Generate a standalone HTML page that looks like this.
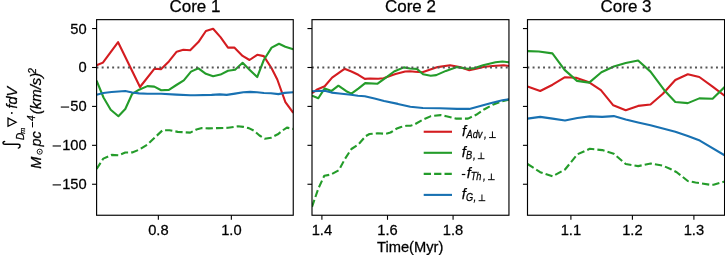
<!DOCTYPE html><html><head><meta charset="utf-8"><style>html,body{margin:0;padding:0;background:#fff;overflow:hidden;}svg{display:block;will-change:transform;}text{font-family:"Liberation Sans", sans-serif;fill:#000;stroke:#000;stroke-width:0.25px;}</style></head><body>
<svg width="725" height="255" viewBox="0 0 725 255">
<rect width="725" height="255" fill="#fff"/>
<clipPath id="c0"><rect x="96.60" y="19.65" width="196.65" height="195.60"/></clipPath>
<g clip-path="url(#c0)">
<polyline points="96.60,65.30 102.90,62.60 118.10,42.20 140.00,87.00 154.30,68.80 161.20,69.10 168.90,61.40 176.70,51.70 183.30,49.80 190.20,50.30 198.40,42.10 205.90,31.00 213.10,28.80 220.50,37.10 228.00,47.60 234.30,47.60 242.60,55.90 249.50,60.00 257.20,54.80 263.80,56.10 271.60,68.30 277.30,79.50 285.40,102.20 293.25,112.80" fill="none" stroke="#d41c20" stroke-width="2.10" stroke-linejoin="round" stroke-linecap="butt"/>
<polyline points="96.60,80.60 103.50,97.50 110.70,109.70 118.40,116.20 125.30,109.00 132.20,93.80 139.10,89.70 147.40,86.10 154.30,86.60 161.20,90.20 168.90,89.90 176.40,85.00 183.80,80.30 191.00,71.60 198.40,68.30 205.90,73.80 213.10,76.30 220.50,74.60 228.00,70.80 235.10,69.70 242.60,62.80 249.50,69.70 257.20,77.10 263.80,60.00 271.60,47.60 279.00,43.70 285.30,46.70 293.25,49.30" fill="none" stroke="#249c2a" stroke-width="2.10" stroke-linejoin="round" stroke-linecap="butt"/>
<polyline points="96.60,169.00 103.30,158.60 111.60,154.90 118.40,155.30 125.30,152.50 132.20,152.40 139.10,149.70 147.40,144.60 154.30,138.00 162.60,130.20 169.50,130.20 177.80,131.90 190.20,132.60 196.40,129.50 201.90,128.10 208.80,128.40 217.10,128.10 228.10,127.80 237.80,126.30 243.30,126.90 248.80,128.10 254.30,130.90 259.50,135.50 264.80,138.70 271.00,137.70 277.80,134.30 283.30,130.00 286.90,127.60 293.25,129.00" fill="none" stroke="#249c2a" stroke-width="2.10" stroke-linejoin="round" stroke-linecap="butt" stroke-dasharray="7.3 3.1"/>
<polyline points="96.60,94.70 103.30,93.00 111.60,92.00 125.30,91.00 132.20,92.50 139.10,93.40 147.40,93.70 161.20,93.80 176.40,94.60 190.20,95.30 195.00,95.30 211.60,94.90 219.80,94.40 226.70,94.90 235.00,93.60 243.30,92.30 250.20,91.90 257.10,92.30 264.00,93.00 270.90,93.30 278.40,94.10 284.70,92.90 293.25,92.20" fill="none" stroke="#1871b2" stroke-width="2.10" stroke-linejoin="round" stroke-linecap="butt"/>
<line x1="96.45" y1="67.52" x2="293.25" y2="67.52" stroke="#555" stroke-width="1.95" stroke-dasharray="1.95 3.29"/>
</g>
<rect x="96.60" y="19.65" width="196.65" height="195.60" fill="none" stroke="#000" stroke-width="1.15"/>
<line x1="92.05" y1="28.57" x2="96.60" y2="28.57" stroke="#000" stroke-width="1.1"/>
<line x1="92.05" y1="67.49" x2="96.60" y2="67.49" stroke="#000" stroke-width="1.1"/>
<line x1="92.05" y1="106.41" x2="96.60" y2="106.41" stroke="#000" stroke-width="1.1"/>
<line x1="92.05" y1="145.33" x2="96.60" y2="145.33" stroke="#000" stroke-width="1.1"/>
<line x1="92.05" y1="184.25" x2="96.60" y2="184.25" stroke="#000" stroke-width="1.1"/>
<line x1="158.35" y1="215.25" x2="158.35" y2="219.80" stroke="#000" stroke-width="1.1"/>
<text transform="translate(158.35 234.70) scale(1.050 1)" font-size="14.00" text-anchor="middle">0.8</text>
<line x1="231.35" y1="215.25" x2="231.35" y2="219.80" stroke="#000" stroke-width="1.1"/>
<text transform="translate(231.35 234.70) scale(1.050 1)" font-size="14.00" text-anchor="middle">1.0</text>
<text transform="translate(194.93 12.00) scale(1.050 1)" font-size="16.20" text-anchor="middle">Core 1</text>
<clipPath id="c1"><rect x="312.00" y="19.65" width="196.95" height="195.60"/></clipPath>
<g clip-path="url(#c1)">
<polyline points="312.00,93.20 316.60,89.80 324.70,86.30 332.10,77.60 344.50,68.80 351.40,71.50 358.30,74.80 364.80,78.90 370.00,78.50 378.10,78.80 383.60,78.30 391.90,75.20 395.50,74.00 405.20,71.50 410.00,71.30 414.80,71.70 422.40,72.30 437.60,67.10 450.00,65.30 459.70,67.10 469.30,70.20 476.20,68.80 484.50,66.70 492.80,66.00 503.80,65.30 508.95,66.00" fill="none" stroke="#d41c20" stroke-width="2.10" stroke-linejoin="round" stroke-linecap="butt"/>
<polyline points="312.00,95.60 318.30,98.20 324.70,88.40 331.60,90.90 338.40,85.70 346.30,91.20 351.40,93.60 358.30,88.60 365.20,83.10 377.60,83.70 385.90,77.60 394.10,71.50 403.80,67.40 410.00,68.50 416.90,68.90 423.10,74.30 430.70,75.70 436.20,75.10 445.90,70.90 456.90,67.10 467.90,68.80 474.80,68.10 483.10,65.30 495.50,62.20 502.40,61.50 508.95,62.30" fill="none" stroke="#249c2a" stroke-width="2.10" stroke-linejoin="round" stroke-linecap="butt"/>
<polyline points="312.00,206.80 318.30,188.60 324.30,175.70 330.70,174.60 339.00,170.10 344.50,159.70 351.40,149.00 358.30,144.60 365.60,136.20 369.50,134.00 377.60,133.30 385.90,133.80 390.50,132.50 396.90,128.50 401.00,127.00 406.60,125.80 410.50,125.80 414.80,124.30 422.80,119.80 431.00,116.10 440.60,115.10 446.30,116.20 455.70,118.60 468.00,118.60 476.20,114.80 484.50,109.20 492.70,104.80 500.90,101.70 508.95,99.60" fill="none" stroke="#249c2a" stroke-width="2.10" stroke-linejoin="round" stroke-linecap="butt" stroke-dasharray="7.3 3.1"/>
<polyline points="312.00,91.30 324.70,90.70 331.60,92.60 339.40,93.50 351.00,94.80 357.90,95.80 364.80,96.30 374.50,98.60 384.10,101.00 397.90,103.90 410.30,106.80 422.80,108.00 440.00,108.20 457.00,108.90 469.40,108.90 477.60,106.80 491.30,103.00 502.30,100.30 508.95,99.30" fill="none" stroke="#1871b2" stroke-width="2.10" stroke-linejoin="round" stroke-linecap="butt"/>
<line x1="311.85" y1="67.52" x2="508.95" y2="67.52" stroke="#555" stroke-width="1.95" stroke-dasharray="1.95 3.29"/>
</g>
<rect x="312.00" y="19.65" width="196.95" height="195.60" fill="none" stroke="#000" stroke-width="1.15"/>
<line x1="307.45" y1="28.57" x2="312.00" y2="28.57" stroke="#000" stroke-width="1.1"/>
<line x1="307.45" y1="67.49" x2="312.00" y2="67.49" stroke="#000" stroke-width="1.1"/>
<line x1="307.45" y1="106.41" x2="312.00" y2="106.41" stroke="#000" stroke-width="1.1"/>
<line x1="307.45" y1="145.33" x2="312.00" y2="145.33" stroke="#000" stroke-width="1.1"/>
<line x1="307.45" y1="184.25" x2="312.00" y2="184.25" stroke="#000" stroke-width="1.1"/>
<line x1="321.90" y1="215.25" x2="321.90" y2="219.80" stroke="#000" stroke-width="1.1"/>
<text transform="translate(321.90 234.70) scale(1.050 1)" font-size="14.00" text-anchor="middle">1.4</text>
<line x1="387.50" y1="215.25" x2="387.50" y2="219.80" stroke="#000" stroke-width="1.1"/>
<text transform="translate(387.50 234.70) scale(1.050 1)" font-size="14.00" text-anchor="middle">1.6</text>
<line x1="453.08" y1="215.25" x2="453.08" y2="219.80" stroke="#000" stroke-width="1.1"/>
<text transform="translate(453.08 234.70) scale(1.050 1)" font-size="14.00" text-anchor="middle">1.8</text>
<text transform="translate(410.48 12.00) scale(1.050 1)" font-size="16.20" text-anchor="middle">Core 2</text>
<clipPath id="c2"><rect x="527.50" y="19.65" width="197.05" height="195.60"/></clipPath>
<g clip-path="url(#c2)">
<polyline points="527.50,86.60 540.20,91.00 552.60,84.70 565.00,77.20 576.00,77.80 588.40,81.90 600.90,90.20 613.30,105.30 625.70,110.30 638.10,105.90 650.50,104.50 662.90,93.80 675.30,80.00 687.80,74.20 699.30,77.00 712.60,86.60 724.55,95.70" fill="none" stroke="#d41c20" stroke-width="2.10" stroke-linejoin="round" stroke-linecap="butt"/>
<polyline points="527.50,51.10 538.80,51.50 552.40,53.40 564.60,69.90 577.00,80.90 589.20,82.60 601.40,72.20 613.80,66.50 625.70,63.00 638.10,60.50 650.50,71.60 664.30,90.20 675.30,102.00 687.80,103.10 699.30,98.40 712.60,98.70 724.55,87.10" fill="none" stroke="#249c2a" stroke-width="2.10" stroke-linejoin="round" stroke-linecap="butt"/>
<polyline points="527.50,164.00 540.20,172.20 552.60,176.40 565.00,169.50 577.40,154.30 589.80,148.80 602.20,150.10 613.80,153.80 625.70,164.00 638.20,166.10 650.80,163.50 662.60,165.60 670.50,169.00 676.70,172.20 687.80,181.00 695.50,182.50 710.50,184.80 713.50,184.80 724.55,181.50" fill="none" stroke="#249c2a" stroke-width="2.10" stroke-linejoin="round" stroke-linecap="butt" stroke-dasharray="7.3 3.1"/>
<polyline points="527.50,118.60 540.20,116.90 552.60,118.60 565.00,120.50 577.40,118.00 589.80,116.40 602.20,116.90 613.80,116.10 625.70,119.50 638.10,122.50 650.50,125.30 662.90,128.50 675.30,131.70 687.80,135.90 699.80,140.60 724.55,155.30" fill="none" stroke="#1871b2" stroke-width="2.10" stroke-linejoin="round" stroke-linecap="butt"/>
<line x1="527.35" y1="67.52" x2="724.55" y2="67.52" stroke="#555" stroke-width="1.95" stroke-dasharray="1.95 3.29"/>
</g>
<rect x="527.50" y="19.65" width="197.05" height="195.60" fill="none" stroke="#000" stroke-width="1.15"/>
<line x1="522.95" y1="28.57" x2="527.50" y2="28.57" stroke="#000" stroke-width="1.1"/>
<line x1="522.95" y1="67.49" x2="527.50" y2="67.49" stroke="#000" stroke-width="1.1"/>
<line x1="522.95" y1="106.41" x2="527.50" y2="106.41" stroke="#000" stroke-width="1.1"/>
<line x1="522.95" y1="145.33" x2="527.50" y2="145.33" stroke="#000" stroke-width="1.1"/>
<line x1="522.95" y1="184.25" x2="527.50" y2="184.25" stroke="#000" stroke-width="1.1"/>
<line x1="570.90" y1="215.25" x2="570.90" y2="219.80" stroke="#000" stroke-width="1.1"/>
<text transform="translate(570.90 234.70) scale(1.050 1)" font-size="14.00" text-anchor="middle">1.1</text>
<line x1="632.40" y1="215.25" x2="632.40" y2="219.80" stroke="#000" stroke-width="1.1"/>
<text transform="translate(632.40 234.70) scale(1.050 1)" font-size="14.00" text-anchor="middle">1.2</text>
<line x1="693.90" y1="215.25" x2="693.90" y2="219.80" stroke="#000" stroke-width="1.1"/>
<text transform="translate(693.90 234.70) scale(1.050 1)" font-size="14.00" text-anchor="middle">1.3</text>
<text transform="translate(626.02 12.00) scale(1.050 1)" font-size="16.20" text-anchor="middle">Core 3</text>
<text transform="translate(86.66 33.52) scale(1.050 1)" font-size="14.00" text-anchor="end">50</text>
<text transform="translate(86.66 72.44) scale(1.050 1)" font-size="14.00" text-anchor="end">0</text>
<text transform="translate(86.66 111.36) scale(1.050 1)" font-size="14.00" text-anchor="end">50</text>
<rect x="60.79" y="106.51" width="8.35" height="1.1" fill="#000"/>
<text transform="translate(86.66 150.28) scale(1.050 1)" font-size="14.00" text-anchor="end">100</text>
<rect x="52.62" y="145.43" width="8.35" height="1.1" fill="#000"/>
<text transform="translate(86.66 189.20) scale(1.050 1)" font-size="14.00" text-anchor="end">150</text>
<rect x="52.62" y="184.35" width="8.35" height="1.1" fill="#000"/>
<text transform="translate(410.15 252.30) scale(1.050 1)" font-size="14.00" text-anchor="middle">Time(Myr)</text>
<line x1="423.7" y1="131.75" x2="452.0" y2="131.75" stroke="#d41c20" stroke-width="2.10"/>
<line x1="423.7" y1="152.80" x2="452.0" y2="152.80" stroke="#249c2a" stroke-width="2.10"/>
<line x1="423.7" y1="173.85" x2="452.0" y2="173.85" stroke="#249c2a" stroke-width="2.10" stroke-dasharray="7.3 3.1"/>
<line x1="423.7" y1="194.90" x2="452.0" y2="194.90" stroke="#1871b2" stroke-width="2.10"/>
<text transform="translate(461.90 136.00) scale(1.000 1)" font-size="14.60" font-style="italic">f</text>
<text transform="translate(466.60 138.10) scale(0.920 1)" font-size="10.00" font-style="italic">Adv</text>
<text transform="translate(484.00 138.10) scale(1.000 1)" font-size="10.00" font-style="italic">,</text>
<path d="M489.10 137.60h6.70M492.45 137.60v-6.20" stroke="#000" stroke-width="1.00" fill="none"/>
<text transform="translate(461.80 157.10) scale(1.000 1)" font-size="14.60" font-style="italic">f</text>
<text transform="translate(465.90 159.20) scale(0.920 1)" font-size="10.00" font-style="italic">B</text>
<text transform="translate(473.10 159.20) scale(1.000 1)" font-size="10.00" font-style="italic">,</text>
<path d="M477.80 158.70h6.70M481.15 158.70v-6.20" stroke="#000" stroke-width="1.00" fill="none"/>
<rect x="461.8" y="173.90" width="3.5" height="1.2" fill="#000"/>
<text transform="translate(466.80 178.10) scale(1.000 1)" font-size="14.60" font-style="italic">f</text>
<text transform="translate(470.70 180.20) scale(0.920 1)" font-size="10.00" font-style="italic">Th</text>
<text transform="translate(482.90 180.20) scale(1.000 1)" font-size="10.00" font-style="italic">,</text>
<path d="M488.00 179.70h6.70M491.35 179.70v-6.20" stroke="#000" stroke-width="1.00" fill="none"/>
<text transform="translate(461.80 199.10) scale(1.000 1)" font-size="14.60" font-style="italic">f</text>
<text transform="translate(465.90 201.20) scale(0.920 1)" font-size="10.00" font-style="italic">G</text>
<text transform="translate(473.50 201.20) scale(1.000 1)" font-size="10.00" font-style="italic">,</text>
<path d="M478.60 200.70h6.70M481.95 200.70v-6.20" stroke="#000" stroke-width="1.00" fill="none"/>
<g transform="translate(16.90 148.80) rotate(-90)"><text transform="translate(8.80 7.00) scale(1.000 1)" font-size="10.0" font-style="italic">D</text><text transform="translate(15.00 8.30) scale(1.000 1)" font-size="7.2" font-style="italic">m</text><path d="M22.5 -8.9 L30.7 -8.9 L26.6 -0.8 Z" fill="none" stroke="#000" stroke-width="1.25" stroke-linejoin="miter"/><circle cx="35.8" cy="-5.1" r="0.9" fill="#000"/><text transform="translate(40.30 0.00) scale(1.000 1)" font-size="14.4" font-style="italic">fdV</text></g>
<path d="M4.6 141.5 C2.4 141.6 2.5 144.3 4.8 144.3 L18.3 144.3 C20.7 144.3 20.6 147.3 18.4 148.1" fill="none" stroke="#000" stroke-width="1.5" stroke-linecap="round"/>
<g transform="translate(40.60 168.30) rotate(-90)"><text transform="translate(-0.40 0.00) scale(1.000 1)" font-size="14.4" font-style="italic">M</text><circle cx="16.6" cy="-0.9" r="2.55" fill="none" stroke="#000" stroke-width="0.9"/><circle cx="16.6" cy="-0.9" r="0.7" fill="#000"/><text transform="translate(21.80 0.00) scale(1.000 1)" font-size="14.4" font-style="italic">pc</text><rect x="40.9" y="-8.6" width="5.6" height="1.0" fill="#000"/><text transform="translate(47.40 -5.30) scale(1.000 1)" font-size="10.0" font-style="italic">4</text><text transform="translate(54.00 0.00) scale(1.040 1)" font-size="14.4" font-style="italic">(km/s)</text><text transform="translate(94.60 -4.80) scale(1.000 1)" font-size="10.0" font-style="italic">2</text></g>
</svg></body></html>
